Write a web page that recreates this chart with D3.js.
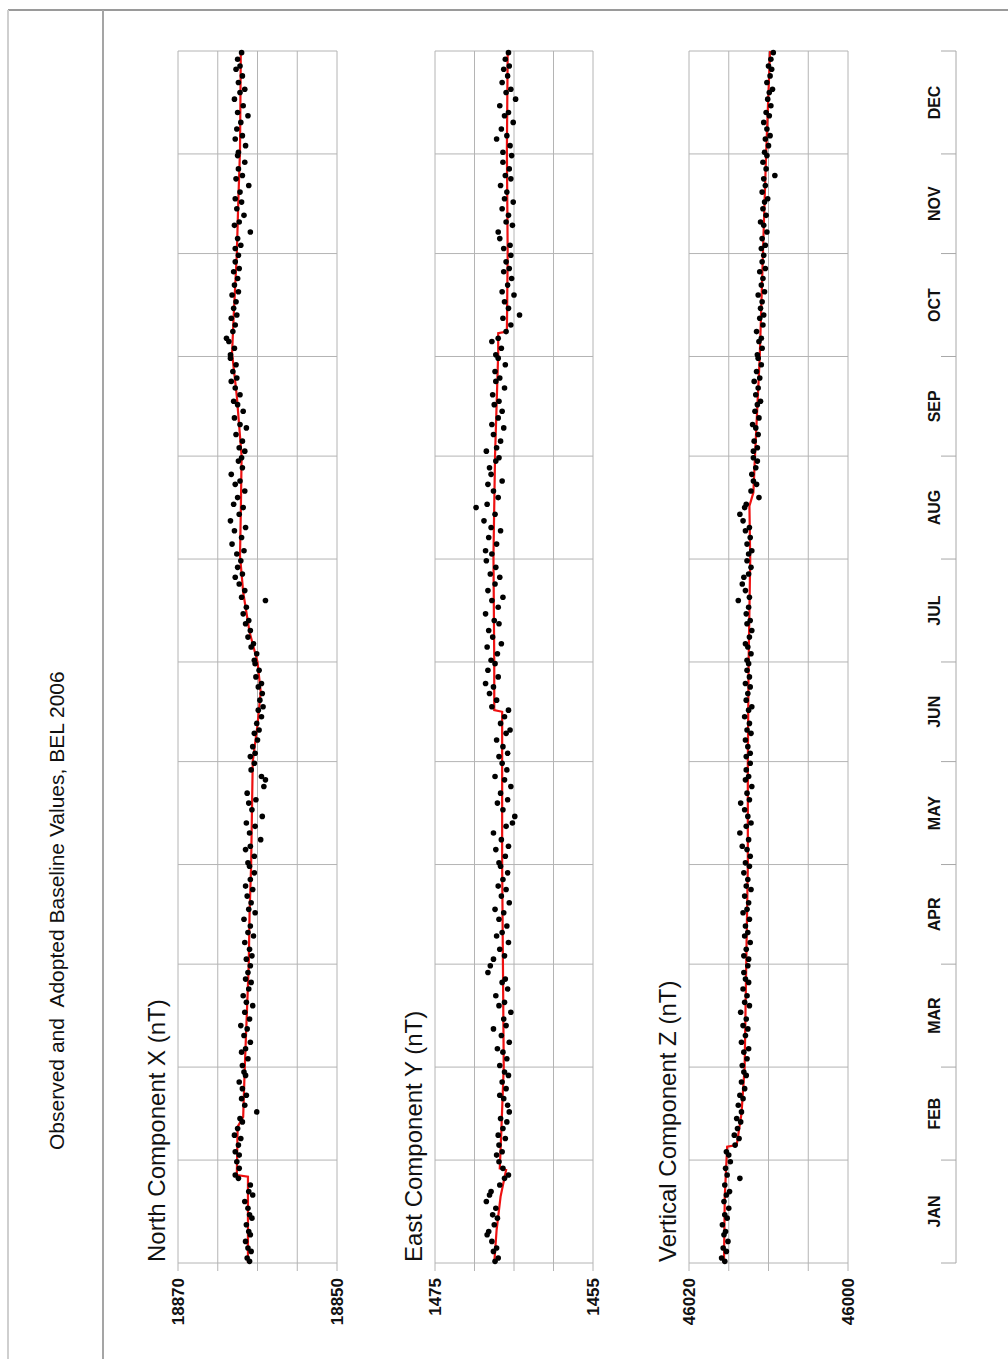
<!DOCTYPE html>
<html>
<head>
<meta charset="utf-8">
<script src="https://cdn.jsdelivr.net/npm/d3@7"></script>
<style>
  html, body { margin: 0; padding: 0; background: #fff; }
  svg { display: block; }
  text { font-family: "Liberation Sans", Arial, Helvetica, sans-serif; fill: #111; }
</style>
</head>
<body>
<svg id="chart" width="1008" height="1359"></svg>
<script>
// ---- data -------------------------------------------------------------
const months = ["JAN","FEB","MAR","APR","MAY","JUN","JUL","AUG","SEP","OCT","NOV","DEC"];
const monthStarts = [0,31,59,90,120,151,181,212,243,273,304,334,365];

// day of year of each absolute observation
const obsDays = [
  1,2,4,5,7,9,10,12,14,15,17,19,21,22,24,26,27,29,31,
  33,34,36,38,39,41,43,44,46,48,50,51,53,55,57,58,
  60,62,64,65,67,69,71,72,74,76,78,79,81,83,85,86,88,90,
  92,93,95,97,99,100,102,104,106,107,109,111,113,114,116,118,120,
  121,123,125,126,128,130,132,133,135,137,139,140,142,144,146,147,149,151,
  153,154,156,158,160,161,163,165,167,168,170,172,174,175,177,179,181,
  182,184,186,187,189,191,193,194,196,198,200,201,203,205,207,208,210,212,
  214,215,217,219,221,222,224,226,228,229,231,233,235,236,238,240,242,243,
  245,246,248,250,252,253,255,257,259,260,262,264,266,267,269,271,273,
  274,276,278,279,281,283,285,286,288,290,292,293,295,297,299,300,302,304,
  306,307,309,311,313,314,316,318,320,321,323,325,327,328,330,332,334,
  335,337,339,340,342,344,346,347,349,351,353,354,356,358,360,361,363,365
];

// observed baseline values, North component X (nT)
const xObserved = [
  18861.0,18861.3,18860.8,18861.2,18861.5,18860.9,18861.1,18861.4,18860.7,18861.0,18861.2,18861.6,18860.6,18861.1,18860.9,18862.4,18862.8,18862.3,18862.6,
  18862.3,18862.8,18862.4,18862.1,18862.9,18862.5,18861.9,18862.2,18860.1,18861.6,18862.0,18861.4,18861.9,18862.3,18861.5,18861.7,
  18861.9,18861.2,18862.0,18861.5,18860.9,18861.7,18861.3,18862.1,18861.0,18861.6,18860.6,18861.4,18861.8,18861.1,18860.8,18861.5,18861.2,18860.9,
  18861.4,18860.7,18861.0,18861.6,18860.5,18861.2,18860.9,18861.7,18860.3,18861.1,18860.8,18861.3,18860.6,18861.5,18860.9,18860.4,18861.0,
  18861.2,18860.4,18861.5,18860.9,18859.6,18861.0,18860.3,18861.4,18859.4,18860.7,18861.1,18860.2,18861.3,18859.2,18859.0,18859.5,18860.8,18860.4,
  18860.9,18860.3,18860.6,18860.0,18860.4,18859.8,18860.1,18859.5,18859.9,18859.3,18859.7,18859.4,18859.9,18859.5,18860.2,18859.8,18860.3,
  18860.4,18860.1,18860.8,18860.5,18861.2,18860.9,18861.5,18861.1,18861.8,18861.4,18859.0,18862.0,18861.6,18862.3,18862.8,18861.9,18862.5,18862.1,
  18862.6,18861.7,18863.2,18862.0,18862.9,18861.5,18863.4,18862.3,18861.8,18863.0,18862.5,18861.6,18862.8,18862.2,18863.3,18861.9,18862.4,18862.0,
  18861.6,18862.3,18861.9,18862.7,18861.4,18862.2,18862.9,18861.8,18862.5,18863.0,18862.2,18862.8,18863.3,18862.6,18863.1,18862.7,18863.4,
  18863.4,18862.9,18863.6,18863.9,18863.1,18862.8,18863.3,18862.6,18863.0,18862.7,18863.2,18862.4,18862.9,18862.5,18863.0,18862.3,18862.8,18862.4,
  18862.8,18862.1,18862.5,18860.9,18862.9,18862.3,18861.7,18862.6,18862.0,18862.8,18862.2,18861.1,18862.7,18861.9,18862.4,18861.6,18862.5,
  18862.4,18861.5,18862.8,18861.9,18862.6,18862.1,18861.2,18862.5,18861.8,18862.9,18862.2,18861.6,18862.4,18861.9,18862.7,18862.2,18862.5,18862.0
];

// observed baseline values, East component Y (nT)
const yObserved = [
  1467.4,1467.0,1467.6,1467.2,1467.8,1468.4,1468.2,1467.5,1467.1,1467.7,1467.3,1468.5,1468.1,1467.9,1466.8,1466.2,1465.7,1466.4,1466.9,
  1467.2,1466.5,1466.9,1466.1,1467.0,1466.4,1465.9,1466.7,1465.6,1465.8,1466.3,1466.8,1466.0,1466.5,1465.7,1466.2,
  1466.8,1465.9,1466.4,1467.1,1465.6,1466.6,1467.6,1466.0,1466.3,1465.4,1466.9,1466.2,1467.3,1465.8,1466.5,1466.1,1468.3,1468.0,
  1467.6,1466.2,1466.8,1465.7,1467.2,1466.5,1465.9,1466.9,1466.3,1467.4,1465.6,1466.6,1466.0,1467.0,1466.4,1465.8,1466.7,
  1466.9,1466.1,1467.3,1465.7,1466.6,1467.6,1466.0,1465.2,1464.9,1466.4,1467.1,1465.8,1466.7,1465.4,1466.2,1467.4,1465.9,1466.5,
  1466.9,1465.8,1466.4,1467.2,1466.0,1465.5,1466.7,1466.2,1465.7,1467.8,1467.2,1468.1,1467.6,1468.6,1467.0,1468.3,1467.4,
  1467.9,1467.1,1468.4,1466.6,1467.7,1468.2,1466.9,1467.5,1468.6,1467.0,1467.8,1466.4,1468.3,1467.4,1466.8,1468.0,1467.3,1468.5,
  1467.8,1468.6,1467.2,1468.2,1466.7,1467.9,1468.8,1467.4,1469.8,1468.4,1467.0,1467.6,1468.3,1466.5,1467.9,1468.1,1467.3,1466.9,
  1468.5,1467.2,1466.7,1467.6,1466.3,1467.8,1467.0,1466.5,1467.5,1466.9,1467.7,1466.2,1467.3,1466.8,1467.4,1466.1,1467.0,
  1467.3,1466.6,1467.8,1467.0,1466.0,1465.4,1466.4,1464.3,1465.7,1466.2,1465.0,1466.5,1465.8,1465.3,1466.3,1465.6,1466.0,1465.4,
  1466.3,1465.5,1466.8,1467.0,1465.2,1466.0,1465.7,1466.5,1465.1,1466.2,1465.9,1466.7,1465.4,1466.1,1465.6,1466.4,1465.3,
  1466.4,1465.5,1467.2,1465.9,1466.6,1465.1,1466.2,1465.7,1466.8,1464.8,1466.0,1465.4,1466.5,1465.8,1466.3,1465.6,1466.1,1465.7
];

// observed baseline values, Vertical component Z (nT)
const zObserved = [
  46015.5,46015.9,46015.3,46015.7,46015.1,46015.6,46015.4,46015.8,46015.2,46015.5,46015.0,46015.6,46015.3,46014.9,46015.5,46013.6,46015.2,46015.4,46014.8,
  46015.0,46015.3,46014.2,46013.7,46014.3,46013.9,46013.5,46014.0,46013.4,46013.8,46013.2,46013.6,46013.0,46013.4,46012.8,46013.1,
  46013.3,46012.7,46013.1,46012.5,46013.4,46012.9,46012.6,46013.2,46012.8,46013.5,46012.4,46013.0,46012.7,46013.2,46012.5,46012.9,46013.1,46012.6,
  46012.5,46013.1,46012.8,46012.3,46013.0,46012.6,46012.9,46012.4,46013.2,46012.7,46012.5,46013.0,46012.2,46012.8,46012.6,46013.1,46012.4,
  46012.9,46012.3,46012.7,46013.3,46012.5,46013.6,46012.8,46012.2,46012.6,46013.0,46013.5,46012.4,46012.7,46012.1,46012.9,46012.5,46012.8,46012.3,
  46012.8,46012.3,46012.6,46012.9,46012.2,46012.7,46012.4,46013.0,46012.5,46012.1,46012.8,46012.6,46012.3,46012.9,46012.4,46012.7,46012.5,
  46012.7,46012.2,46012.6,46012.9,46012.4,46012.1,46012.7,46012.3,46012.8,46012.5,46013.8,46012.4,46012.9,46013.3,46013.1,46012.5,46012.2,46012.7,
  46012.5,46012.1,46012.7,46012.3,46012.9,46012.4,46013.2,46013.6,46013.0,46012.8,46011.2,46012.2,46011.5,46011.9,46012.1,46011.6,46011.4,46011.9,
  46011.9,46011.4,46011.8,46011.3,46011.6,46012.0,46011.2,46011.7,46011.4,46011.0,46011.6,46011.3,46011.8,46011.1,46011.5,46010.9,46011.3,
  46011.4,46010.8,46011.2,46010.9,46011.5,46010.7,46011.1,46010.6,46011.0,46010.8,46011.3,46010.5,46010.9,46010.7,46011.1,46010.4,46010.8,46010.6,
  46010.9,46010.4,46010.8,46010.2,46010.6,46011.0,46010.3,46010.7,46010.5,46010.1,46010.8,46010.4,46010.6,46009.2,46010.3,46010.7,46010.2,
  46010.5,46010.0,46010.4,46009.8,46010.2,46010.6,46009.9,46010.3,46009.7,46010.1,46009.9,46009.5,46010.2,46009.8,46009.6,46010.0,46009.7,46009.4
];

// adopted baselines: day of year and value at each vertex
const xAdoptedDays = [0,26,26.5,41,44,59,90,105,120,151,162,172,181,190,202,213,226,243,261,274,285,304,321,335,365];
const xAdopted     = [18861.2,18861.2,18862.6,18862.5,18861.8,18861.6,18861.1,18861.0,18860.8,18860.6,18860.0,18859.6,18860.0,18861.0,18861.8,18862.2,18862.1,18862.0,18862.6,18863.2,18863.0,18862.6,18862.4,18862.2,18862.1];

const yAdoptedDays = [0,10,20,28,28.5,40,59,90,120,151,166,166.5,181,213,243,274,280,280.5,304,335,365];
const yAdopted     = [1467.5,1467.2,1466.7,1466.0,1466.8,1466.6,1466.3,1466.4,1466.5,1466.5,1466.5,1467.5,1467.5,1467.6,1467.4,1467.0,1467.0,1465.9,1465.8,1465.9,1465.8];

const zAdoptedDays = [0,20,35,35.5,45,59,90,120,151,181,212,228,232,243,273,304,334,365];
const zAdopted     = [46015.6,46015.5,46015.2,46014.0,46013.4,46013.0,46012.8,46012.6,46012.6,46012.5,46012.3,46012.4,46011.9,46011.7,46011.1,46010.7,46010.3,46009.8];

// value axes (nT)
const xTicks = [18870, 18865, 18860, 18855, 18850];
const yTicks = [1475, 1470, 1465, 1460, 1455];
const zTicks = [46020, 46015, 46010, 46005, 46000];

const titleText = "Observed and  Adopted Baseline Values, BEL 2006";
const panelTitles = ["North Component X (nT)", "East Component Y (nT)", "Vertical Component Z (nT)"];

// ---- drawing ------------------------------------------------------------
const W = 1008, H = 1359;
const svg = d3.select("#chart");

// page frame
const frame = svg.append("g").attr("fill", "none");
frame.append("line").attr("x1", 8).attr("x2", W).attr("y1", 10).attr("y2", 10)
  .attr("stroke", "#9a9a9a").attr("stroke-width", 2);
frame.append("line").attr("x1", 8).attr("x2", 8).attr("y1", 10).attr("y2", H)
  .attr("stroke", "#cfcfcf").attr("stroke-width", 2);
frame.append("line").attr("x1", 103).attr("x2", 103).attr("y1", 10).attr("y2", H)
  .attr("stroke", "#a5a5a5").attr("stroke-width", 2);

// the sheet is landscape, turned a quarter turn on the page
const page = svg.append("g").attr("transform", `translate(0,${H}) rotate(-90)`);

const t = d3.scaleLinear().domain([0, 365]).range([96, 1308]);

page.append("text")
  .attr("x", 209).attr("y", 64)
  .attr("font-size", 21)
  .style("white-space", "pre")
  .text(titleText);

const panels = [
  { title: panelTitles[0], ticks: xTicks, obs: xObserved, adDays: xAdoptedDays, ad: xAdopted, top: 178, bottom: 337 },
  { title: panelTitles[1], ticks: yTicks, obs: yObserved, adDays: yAdoptedDays, ad: yAdopted, top: 435, bottom: 593 },
  { title: panelTitles[2], ticks: zTicks, obs: zObserved, adDays: zAdoptedDays, ad: zAdopted, top: 689, bottom: 848 }
];

panels.forEach(p => {
  const v = d3.scaleLinear()
    .domain([d3.min(p.ticks), d3.max(p.ticks)])
    .range([p.bottom, p.top]);
  const g = page.append("g");

  // grid: value lines with short ticks below the first month
  g.append("g").selectAll("line").data(p.ticks).join("line")
    .attr("x1", t(0) - 8).attr("x2", t(365))
    .attr("y1", d => v(d)).attr("y2", d => v(d))
    .attr("stroke", "#b4b4b4").attr("stroke-width", 1);
  // grid: month boundaries
  g.append("g").selectAll("line").data(monthStarts).join("line")
    .attr("x1", d => t(d)).attr("x2", d => t(d))
    .attr("y1", p.top).attr("y2", p.bottom)
    .attr("stroke", "#b4b4b4").attr("stroke-width", 1);

  // end labels of the value axis
  const ends = [d3.max(p.ticks), d3.min(p.ticks)];
  g.append("g").selectAll("text").data(ends).join("text")
    .attr("x", t(0) - 15).attr("y", d => v(d))
    .attr("dy", "0.36em")
    .attr("text-anchor", "end")
    .attr("font-size", 17).attr("font-weight", "bold")
    .text(d => d);

  g.append("text")
    .attr("x", t(0) + 1).attr("y", p.top - 13)
    .attr("font-size", 24)
    .text(p.title);

  // adopted baseline
  const line = d3.line().x(d => t(d[0])).y(d => v(d[1]));
  g.append("path")
    .datum(d3.zip(p.adDays, p.ad))
    .attr("d", line)
    .attr("fill", "none").attr("stroke", "#ee1111").attr("stroke-width", 2.2);

  // observed values
  g.append("g").selectAll("circle").data(d3.zip(obsDays, p.obs)).join("circle")
    .attr("cx", d => t(d[0] - 0.5))
    .attr("cy", d => v(d[1]))
    .attr("r", 2.8)
    .attr("fill", "#000");
});

// month axis
const axisV = 956;
const ma = page.append("g");
ma.append("line").attr("x1", t(0)).attr("x2", t(365)).attr("y1", axisV).attr("y2", axisV)
  .attr("stroke", "#a8a8a8").attr("stroke-width", 1);
ma.selectAll("line.tick").data(monthStarts).join("line").attr("class", "tick")
  .attr("x1", d => t(d)).attr("x2", d => t(d))
  .attr("y1", axisV - 15).attr("y2", axisV)
  .attr("stroke", "#a8a8a8").attr("stroke-width", 1);
ma.selectAll("text").data(months).join("text")
  .attr("x", (d, i) => t((monthStarts[i] + monthStarts[i + 1]) / 2))
  .attr("y", 940)
  .attr("text-anchor", "middle")
  .attr("font-size", 16).attr("font-weight", "bold")
  .text(d => d);
</script>
</body>
</html>
